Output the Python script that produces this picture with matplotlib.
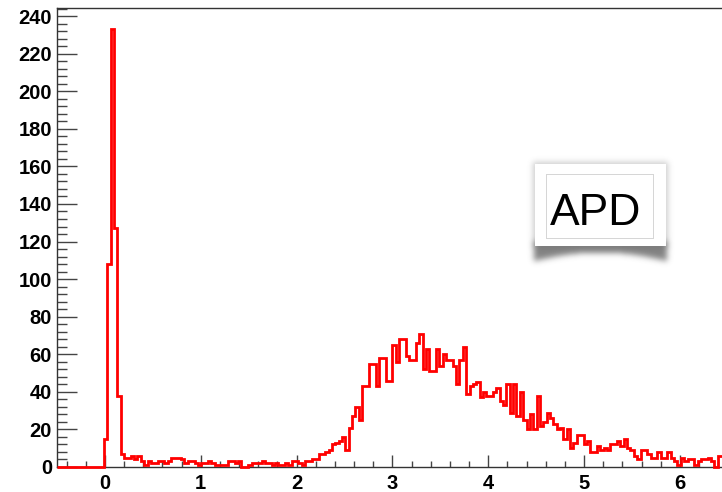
import numpy as np
import matplotlib.pyplot as plt
from matplotlib.ticker import MultipleLocator

# ---- data: 200-bin histogram from -0.5 to 6.5 ----
x_lo, x_hi = -0.5, 6.5
counts = [
    0, 0, 0, 0, 0, 0, 0, 0, 0, 0, 0, 0, 0, 0,
    15, 108, 233, 127, 38,
    7, 5, 5, 6, 4, 6, 3, 1, 3, 2,
    2, 3, 3, 2, 3, 5, 5, 5, 4, 2,
    3, 3, 2, 1, 2, 2, 3, 2, 1, 1,
    1, 1, 3, 3, 2, 3, 0, 0, 1, 2,
    2, 2, 3, 2, 2, 1, 2, 1, 1, 2,
    1, 3, 3, 2,
    1, 3, 3, 4, 4, 7, 7, 8, 9, 12,
    13, 14, 16, 9, 21, 27, 32, 25, 43, 43,
    55, 55, 43, 58, 58, 46, 46, 65, 56, 68,
    68, 59, 57, 57, 66, 71,
    52, 63, 51, 51, 63, 54, 60, 57, 57, 54,
    44, 57, 64, 39, 43, 44, 45, 37, 40, 38,
    38, 40, 42, 35, 33, 44, 29, 44, 27, 40,
    25, 20, 28, 20, 38,
    22, 24, 29, 26, 23, 20, 21, 15, 20, 10,
    13, 17, 17, 12, 14, 8, 8, 11, 9, 10,
    9, 12, 12, 14, 11, 15, 10, 9, 6, 4,
    9, 9, 7, 5, 5, 8, 5, 5, 8, 5,
    3, 1, 5, 3, 4, 4, 1, 3, 4, 4,
    5, 3, 0, 6, 6, 3,
]
label_text = "APD"

edges = np.linspace(x_lo, x_hi, len(counts) + 1)

plt.rcParams["font.family"] = ["Liberation Sans", "DejaVu Sans"]
plt.rcParams["font.weight"] = "bold"

W, H = 722, 492
fig = plt.figure(figsize=(W / 100, H / 100), dpi=100)
ax = fig.add_axes([57 / W, 25 / H, 665 / W, 459 / H])

ax.stairs(counts, edges, baseline=0, color="red", lw=2.0, clip_on=False, zorder=3)

ax.set_xlim(-0.5, 6.44)
ax.set_ylim(0, 244.3)
ax.xaxis.set_major_locator(MultipleLocator(1))
ax.xaxis.set_minor_locator(MultipleLocator(0.2))
ax.yaxis.set_major_locator(MultipleLocator(20))
ax.yaxis.set_minor_locator(MultipleLocator(4))

ax.tick_params(which="both", direction="in", color="#444444", width=1.0, labelsize=14.5)
ax.tick_params(axis="y", which="major", length=14.4, pad=3.6)
ax.tick_params(axis="y", which="minor", length=7.2)
ax.tick_params(axis="x", which="major", length=8.5, pad=5)
ax.tick_params(axis="x", which="minor", length=4.3)

ax.spines["right"].set_visible(False)
for s in ("left", "top", "bottom"):
    ax.spines[s].set_color("#333333")
    ax.spines[s].set_linewidth(1.0)


# ---- "APD" sticky label with soft shadow ----
def soft(mask, sigma):
    r = int(3 * sigma)
    k = np.exp(-0.5 * (np.arange(-r, r + 1) / sigma) ** 2)
    k /= k.sum()
    out = np.apply_along_axis(lambda v: np.convolve(v, k, mode="same"), 0, mask)
    out = np.apply_along_axis(lambda v: np.convolve(v, k, mode="same"), 1, out)
    return out


ih, iw = 120, 150
yy, xx = np.mgrid[0:ih, 0:iw]
box = (xx >= 8) & (xx <= 142) & (yy >= 7) & (yy <= 92)
glow = soft(box.astype(float), 3.0) * 0.3
ybot = 106 - 9 * (1 - ((xx - 75) / 67.0) ** 2)
shadow_mask = (xx >= 9) & (xx <= 141) & (yy >= 86) & (yy <= ybot)
shadow = soft(shadow_mask.astype(float), 3.0) * 0.75
alpha = 1 - (1 - glow) * (1 - shadow)

img = np.zeros((ih, iw, 4))
img[..., :3] = 0.35
img[..., 3] = alpha
inner_box = (xx >= 10) & (xx <= 140) & (yy >= 9) & (yy <= 90)
img[inner_box] = [1, 1, 1, 1]
edge_col = [0.84, 0.84, 0.84, 1]
img[19:84, 21] = edge_col
img[19:84, 128] = edge_col
img[19, 21:129] = edge_col
img[83, 21:129] = edge_col

fig.figimage(img, xo=525, yo=H - 155 - ih, origin="upper", zorder=5)
fig.text(596 / W, 1 - 225 / H, label_text, ha="center", va="baseline",
         fontsize=32, fontweight="normal", color="black", zorder=6)

fig.savefig("out.png", dpi=100)
